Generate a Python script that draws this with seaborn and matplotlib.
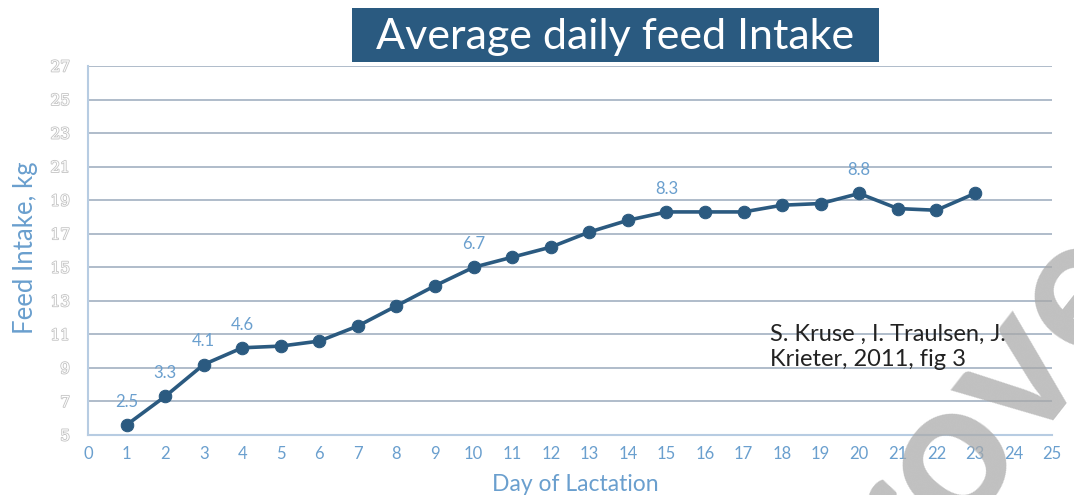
import matplotlib.pyplot as plt
import matplotlib.patheffects as pe
from matplotlib.patches import Rectangle
import pandas as pd
import seaborn as sns

# data
days = list(range(1, 24))
intake_kg = [5.6, 7.3, 9.2, 10.2, 10.3, 10.6, 11.5, 12.7, 13.9, 15.0, 15.6, 16.2,
             17.1, 17.8, 18.3, 18.3, 18.3, 18.7, 18.8, 19.4, 18.5, 18.4, 19.4]
label_days = [1, 2, 3, 4, 10, 15, 20]
label_texts = ["2.5", "3.3", "4.1", "4.6", "6.7", "8.3", "8.8"]
y_ticks = list(range(5, 28, 2))
x_ticks = list(range(0, 26))

LINE = "#2B5A80"
BLUE_TXT = "#6A9FCE"
GRID = "#A9B6C6"
W, H = 1074, 495

df = pd.DataFrame({"Day": days, "Intake": intake_kg})

sns.set_style("white")
plt.rcParams["font.family"] = ["Lato", "DejaVu Sans"]

fig = plt.figure(figsize=(W / 100, H / 100), dpi=100)
ax = fig.add_axes([88 / W, 1 - 435 / H, (1052 - 88) / W, (435 - 66) / H])

sns.lineplot(data=df, x="Day", y="Intake", ax=ax, color=LINE, linewidth=2.6,
             marker="o", markersize=9, markeredgecolor=LINE, zorder=5)

ax.set_xlim(0, 25)
ax.set_ylim(5, 27)
ax.set_yticks(y_ticks)
ax.set_xticks(x_ticks)
ax.set_yticklabels([str(t) for t in y_ticks], fontsize=11, color="white",
                   family="DejaVu Serif")
for t in ax.get_yticklabels():
    t.set_path_effects([pe.withStroke(linewidth=1.2, foreground="#C4C4C4")])
ax.set_xticklabels([str(t) for t in x_ticks], fontsize=12, color=BLUE_TXT)
ax.tick_params(axis="x", length=0, pad=8)
ax.tick_params(axis="y", length=0, pad=13)

ax.grid(axis="y", color=GRID, linewidth=1.3)
ax.set_axisbelow(True)
for s in ["top", "right"]:
    ax.spines[s].set_visible(False)
for s in ["left", "bottom"]:
    ax.spines[s].set_color("#B7CCE2")
    ax.spines[s].set_linewidth(1.5)

ax.set_xlabel("Day of Lactation", fontsize=16.5, color=BLUE_TXT)
ax.xaxis.set_label_coords((575 - 88) / 964, (435 - 474) / 369)
ax.set_ylabel("Feed Intake, kg", fontsize=18.5, color=BLUE_TXT)
ax.yaxis.set_label_coords((38 - 88) / 964, (435 - 248) / 369)

for d, txt in zip(label_days, label_texts):
    v = df.loc[df["Day"] == d, "Intake"].iloc[0]
    ax.annotate(txt, (d, v), textcoords="offset points", xytext=(0, 11),
                ha="center", va="bottom", fontsize=12, color=BLUE_TXT)

ax.text(17.69, 10.25, "S. Kruse , I. Traulsen, J.\nKrieter, 2011, fig 3",
        fontsize=17, color="#222222", linespacing=1.25, va="center", ha="left",
        zorder=6)

# title box
fig.patches.append(Rectangle((352 / W, 1 - 62 / H), (879 - 352) / W, 54 / H,
                             transform=fig.transFigure, facecolor="#2A5A80",
                             edgecolor="none", zorder=1))
fig.text(615 / W, 1 - 37 / H, "Average daily feed Intake", fontsize=31,
         color="white", ha="center", va="center", zorder=2)

# watermark fragment at lower right
fig.text(1010 / W, 1 - 370 / H, "rover", fontsize=140, fontweight="bold",
         color="#A8A8A8", alpha=0.72, rotation=52, ha="center", va="center",
         zorder=10)

fig.savefig("out.png", dpi=100)
